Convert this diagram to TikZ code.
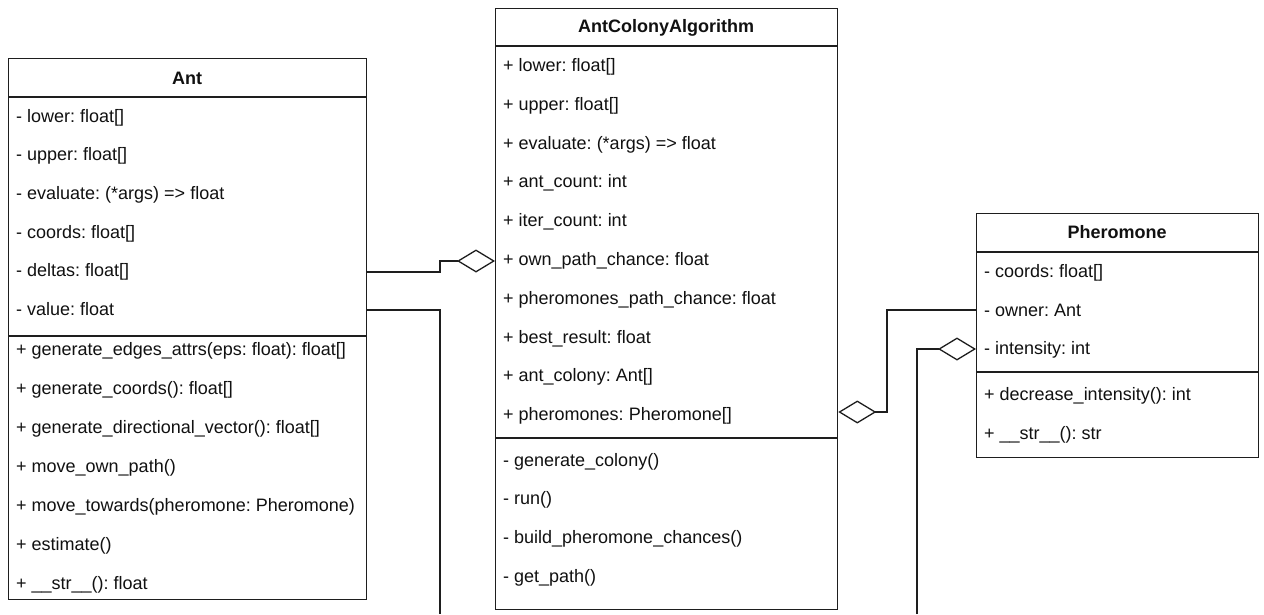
\documentclass[tikz,border=0pt]{standalone}
\usepackage{fontspec}
\setmainfont{Liberation Sans}
\usetikzlibrary{arrows.meta}
\definecolor{linec}{HTML}{1E1E1E}
\definecolor{textc}{HTML}{111111}
\frenchspacing
\begin{document}
\begin{tikzpicture}[x=1pt,y=-1pt,
  font=\fontsize{18}{21}\selectfont,
  classbox/.style={draw=linec, line width=1.3pt, fill=white, anchor=north west, inner sep=0pt},
  title/.style={font=\fontsize{18}{21}\selectfont\bfseries, text=textc, anchor=center, inner sep=0pt},
  member/.style={anchor=base west, inner sep=0pt, text=textc},
  divider/.style={draw=linec, line width=1.3pt},
  link/.style={draw=linec, line width=1.3pt},
  agg/.style={link, -{Diamond[open, length=38pt, width=23pt, line width=1.3pt]}}
]
\useasboundingbox (0,0) rectangle (1264,614);

% ---------- class boxes ----------
\node[classbox, minimum width=358pt, minimum height=541pt] (ant)  at (8,58)   {};
\node[classbox, minimum width=342pt, minimum height=601pt] (aca)  at (495,8)  {};
\node[classbox, minimum width=282pt, minimum height=244pt] (pher) at (976,213) {};

% ---------- Ant ----------
\node[title] (ant-t) at (187,78) {Ant};
\draw[divider] (ant.west |- 0,97)  -- (ant.east |- 0,97);
\draw[divider] (ant.west |- 0,336) -- (ant.east |- 0,336);
\foreach \txt [count=\i from 0] in {%
  {- lower: float[]},
  {- upper: float[]},
  {- evaluate: (*args) => float},
  {- coords: float[]},
  {- deltas: float[]},
  {- value: float}}
  \node[member] (ant-a\i) at (16,122+38.7*\i) {\txt};
\foreach \txt [count=\i from 0] in {%
  {+ generate\_edges\_attrs(eps: float): float[]},
  {+ generate\_coords(): float[]},
  {+ generate\_directional\_vector(): float[]},
  {+ move\_own\_path()},
  {+ move\_towards(pheromone: Pheromone)},
  {+ estimate()},
  {+ \_\_str\_\_(): float}}
  \node[member] (ant-m\i) at (16,355+39*\i) {\txt};

% ---------- AntColonyAlgorithm ----------
\node[title] (aca-t) at (666,27.5) {AntColonyAlgorithm};
\draw[divider] (aca.west |- 0,46)  -- (aca.east |- 0,46);
\draw[divider] (aca.west |- 0,438) -- (aca.east |- 0,438);
\foreach \txt [count=\i from 0] in {%
  {+ lower: float[]},
  {+ upper: float[]},
  {+ evaluate: (*args) => float},
  {+ ant\_count: int},
  {+ iter\_count: int},
  {+ own\_path\_chance: float},
  {+ pheromones\_path\_chance: float},
  {+ best\_result: float},
  {+ ant\_colony: Ant[]},
  {+ pheromones: Pheromone[]}}
  \node[member] (aca-a\i) at (503,71.5+38.8*\i) {\txt};
\foreach \txt [count=\i from 0] in {%
  {- generate\_colony()},
  {- run()},
  {- build\_pheromone\_chances()},
  {- get\_path()}}
  \node[member] (aca-m\i) at (503,466+38.7*\i) {\txt};

% ---------- Pheromone ----------
\node[title] (pher-t) at (1117,232.5) {Pheromone};
\draw[divider] (pher.west |- 0,252) -- (pher.east |- 0,252);
\draw[divider] (pher.west |- 0,372) -- (pher.east |- 0,372);
\foreach \txt [count=\i from 0] in {%
  {- coords: float[]},
  {- owner: Ant},
  {- intensity: int}}
  \node[member] (pher-a\i) at (984,277.5+38.5*\i) {\txt};
\foreach \txt [count=\i from 0] in {%
  {+ decrease\_intensity(): int},
  {+ \_\_str\_\_(): str}}
  \node[member] (pher-m\i) at (984,400.5+38.5*\i) {\txt};

% ---------- connectors ----------
\coordinate (antdown)  at (440,614);
\coordinate (pherdown) at (917,614);

% Ant is aggregated by AntColonyAlgorithm
\draw[agg] (ant.east |- 0,272) -- (440,272) -- (440,261) -- (aca.west |- 0,261);
% Ant value line running down
\draw[link] (ant.east |- 0,310) -- (440,310) -- (antdown);
% Pheromone aggregated by AntColonyAlgorithm
\draw[agg] (pher.west |- 0,310) -- (887,310) -- (887,412) -- (aca.east |- 0,412);
% line running down into Pheromone
\draw[agg] (pherdown) -- (917,349) -- (pher.west |- 0,349);
\end{tikzpicture}
\end{document}
